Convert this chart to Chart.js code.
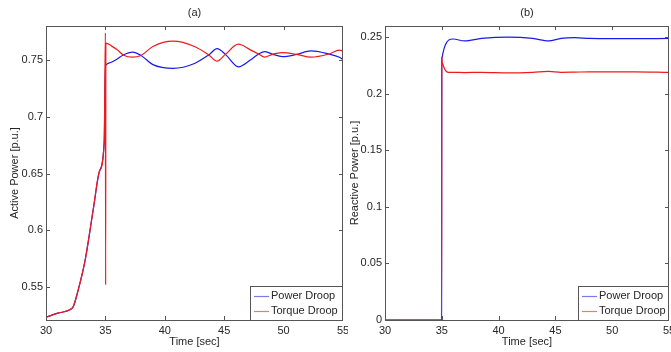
<!DOCTYPE html>
<html>
<head>
<meta charset="utf-8">
<script src="https://cdn.jsdelivr.net/npm/chart.js@4/dist/chart.umd.min.js"></script>
<style>
  html, body { margin: 0; padding: 0; background: #fff; }
  #wrap { position: relative; width: 671px; height: 352px; overflow: hidden; }
  .pane { position: absolute; top: 0; height: 352px; }
  #pa { left: 0; width: 348px; }
  #pb { left: 348px; width: 323px; }
</style>
</head>
<body>
<div id="wrap">
  <div class="pane" id="pa"><canvas id="ca" width="348" height="352"></canvas></div>
  <div class="pane" id="pb"><canvas id="cb" width="323" height="352"></canvas></div>
</div>
<script>
// ---------- data ----------
const seriesNames = ['Power Droop', 'Torque Droop'];
const xTicks = [30, 35, 40, 45, 50, 55];

// (a) Active power
const timeA = [30, 31, 32, 32.3, 32.7, 33.3, 34.0, 34.5, 34.9,
  35.0, 35.02, 35.04, 35.5, 36.0, 36.5, 37.3, 38.0, 39.0, 40.7, 42.5,
  43.7, 44.4, 45.1, 46.2, 47.2, 47.9, 48.4, 49.0, 49.9, 51.1, 52.3, 53.8, 54.7, 55];
const activePowerDroop = [0.5235, 0.527, 0.530, 0.533, 0.547, 0.574, 0.620, 0.652, 0.678,
  0.745, 0.745, 0.7455, 0.748, 0.751, 0.7545, 0.757, 0.754, 0.746, 0.7427, 0.747,
  0.7545, 0.760, 0.755, 0.744, 0.750, 0.7553, 0.7575, 0.7555, 0.753, 0.755, 0.758, 0.7553, 0.7525, 0.7505];
const activeTorqueDroop = [0.5235, 0.527, 0.530, 0.533, 0.547, 0.574, 0.620, 0.652, 0.678,
  0.774, 0.552, 0.765, 0.7625, 0.759, 0.7545, 0.7525, 0.754, 0.762, 0.7667, 0.762,
  0.7545, 0.749, 0.755, 0.764, 0.759, 0.7553, 0.7525, 0.7548, 0.7565, 0.755, 0.7525, 0.7553, 0.7588, 0.758];
const yTicksA = [0.55, 0.6, 0.65, 0.7, 0.75];

// (b) Reactive power
const timeB = [30, 34.98, 35.0, 35.02, 35.1, 35.3, 35.6, 36.0, 37.0, 38.5, 40.9, 43.0,
  44.4, 45.5, 46.7, 48.0, 50.0, 52.0, 55.0];
const reactivePowerDroop = [0, 0, 0.228, 0.232, 0.236, 0.243, 0.2475, 0.2485, 0.2468, 0.249, 0.2502, 0.249,
  0.2468, 0.249, 0.2497, 0.249, 0.2488, 0.2488, 0.249];
const reactiveTorqueDroop = [0, 0, 0.233, 0.229, 0.226, 0.221, 0.219, 0.219, 0.2188, 0.219, 0.2185, 0.219,
  0.2198, 0.219, 0.2192, 0.2195, 0.2195, 0.2195, 0.219];
const yTicksB = [0, 0.05, 0.1, 0.15, 0.2, 0.25];

// ---------- helpers ----------
const FONT = '"Liberation Sans", Arial, Helvetica, sans-serif';
const TXT = '#262626';
const COLORS = ['#1a1aee', '#f01a1a'];
const LEGEND_COLORS = ['#7a7ae8', '#e87a7a'];

function pts(xs, ys) { return xs.map((x, i) => ({ x: x, y: ys[i] })); }

const framePlugin = {
  id: 'frame',
  afterDraw(chart, args, o) {
    const ctx = chart.ctx, a = chart.chartArea;
    const xs = chart.scales.x, ys = chart.scales.y;
    ctx.save();
    ctx.strokeStyle = '#555';
    ctx.lineWidth = 1;
    ctx.strokeRect(Math.round(a.left) + 0.5, Math.round(a.top) + 0.5,
                   Math.round(a.right - a.left) - 1, Math.round(a.bottom - a.top));
    // inward ticks on all four sides
    ctx.beginPath();
    const L = 4;
    xs.ticks.forEach(t => {
      const px = Math.round(xs.getPixelForValue(t.value)) + 0.5;
      if (px <= a.left + 1 || px >= a.right - 1) return;
      ctx.moveTo(px, a.bottom); ctx.lineTo(px, a.bottom - L);
      ctx.moveTo(px, a.top); ctx.lineTo(px, a.top + L);
    });
    ys.ticks.forEach(t => {
      const py = Math.round(ys.getPixelForValue(t.value)) + 0.5;
      if (py <= a.top + 1 || py >= a.bottom - 1) return;
      ctx.moveTo(a.left, py); ctx.lineTo(a.left + L, py);
      ctx.moveTo(a.right, py); ctx.lineTo(a.right - L, py);
    });
    ctx.stroke();

    // titles
    const cx = (a.left + a.right) / 2;
    ctx.fillStyle = TXT;
    ctx.font = '11px ' + FONT;
    ctx.textAlign = 'center';
    ctx.textBaseline = 'middle';
    ctx.fillText(o.title, cx, 13);
    ctx.fillText(o.xTitle, cx, 342);
    ctx.save();
    ctx.translate(o.yTitleX, (a.top + a.bottom) / 2);
    ctx.rotate(-Math.PI / 2);
    ctx.fillText(o.yTitle, 0, 0);
    ctx.restore();

    // legend box
    const bw = o.legendW, bl = a.right - bw, bt = 286, bb = a.bottom;
    ctx.fillStyle = '#fff';
    ctx.fillRect(bl, bt, bw, bb - bt);
    ctx.strokeStyle = '#555';
    ctx.lineWidth = 1;
    ctx.strokeRect(Math.round(bl) + 0.5, bt + 0.5, Math.round(bw) - 1, bb - bt);
    const rows = [296, 311];
    chart.data.datasets.forEach((ds, i) => {
      const y = rows[i];
      ctx.beginPath();
      ctx.strokeStyle = LEGEND_COLORS[i];
      ctx.lineWidth = 1.2;
      ctx.moveTo(bl + 4, y + 0.5);
      ctx.lineTo(bl + 19, y + 0.5);
      ctx.stroke();
      ctx.fillStyle = TXT;
      ctx.textAlign = 'left';
      ctx.fillText(ds.label, bl + 21, y);
    });
    ctx.restore();
  }
};

function makeChart(id, cfg) {
  return new Chart(document.getElementById(id), {
    type: 'line',
    data: {
      datasets: [
        { label: seriesNames[0], data: pts(cfg.t, cfg.blue), borderColor: COLORS[0], borderWidth: 1.2,
          pointRadius: 0, cubicInterpolationMode: 'monotone', order: 1 },
        { label: seriesNames[1], data: pts(cfg.t, cfg.red), borderColor: COLORS[1], borderWidth: 1.2,
          pointRadius: 0, cubicInterpolationMode: 'monotone', order: 0 }
      ]
    },
    options: {
      responsive: false,
      animation: false,
      events: [],
      layout: { padding: { top: 26, left: 0, right: cfg.padRight, bottom: 0 } },
      plugins: {
        legend: { display: false },
        tooltip: { enabled: false },
        frame: cfg.frame
      },
      scales: {
        x: {
          type: 'linear', min: 30, max: 55,
          grid: { display: false, drawTicks: false },
          border: { display: false },
          afterBuildTicks: s => { s.ticks = xTicks.map(v => ({ value: v })); },
          afterFit: s => { s.height = 32; s.paddingLeft = 0; s.paddingRight = 0; },
          ticks: { padding: 4, color: TXT, font: { size: 11, family: FONT }, maxRotation: 0, autoSkip: false,
                   callback: v => String(v) }
        },
        y: {
          type: 'linear', min: cfg.ymin, max: cfg.ymax,
          grid: { display: false, drawTicks: false },
          border: { display: false },
          afterBuildTicks: s => { s.ticks = cfg.yTicks.map(v => ({ value: v })); },
          afterFit: s => { s.width = cfg.left; s.paddingTop = 0; s.paddingBottom = 0; },
          ticks: { padding: 3, color: TXT, font: { size: 11, family: FONT }, autoSkip: false,
                   callback: v => String(v) }
        }
      }
    },
    plugins: [framePlugin]
  });
}

makeChart('ca', {
  t: timeA, blue: activePowerDroop, red: activeTorqueDroop,
  ymin: 0.521, ymax: 0.78, yTicks: yTicksA, left: 46, padRight: 5,
  frame: { title: '(a)', xTitle: 'Time [sec]', yTitle: 'Active Power [p.u.]', yTitleX: 15, legendW: 93 }
});
makeChart('cb', {
  t: timeB, blue: reactivePowerDroop, red: reactiveTorqueDroop,
  ymin: 0, ymax: 0.26, yTicks: yTicksB, left: 37, padRight: 2,
  frame: { title: '(b)', xTitle: 'Time [sec]', yTitle: 'Reactive Power [p.u.]', yTitleX: 7, legendW: 91 }
});
</script>
</body>
</html>
